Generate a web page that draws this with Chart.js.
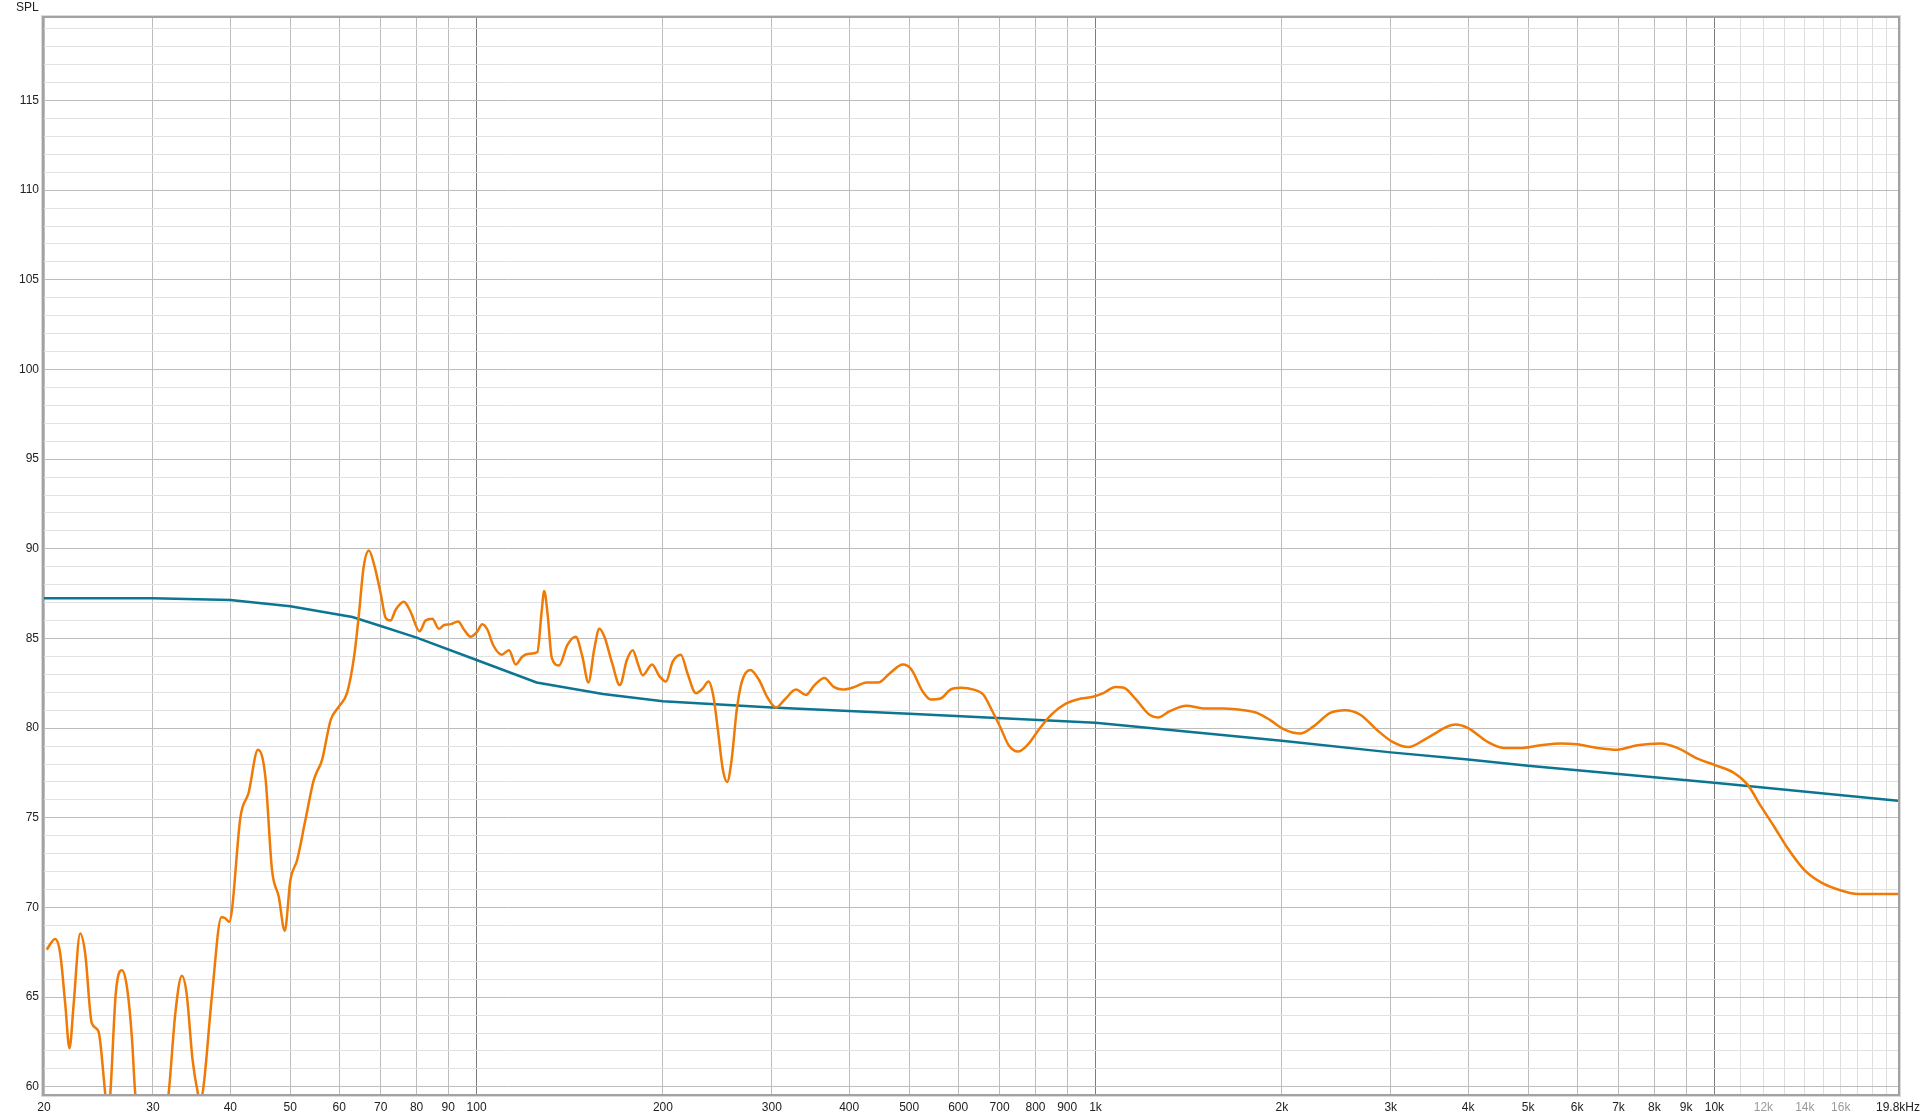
<!DOCTYPE html>
<html>
<head>
<meta charset="utf-8">
<script src="https://cdn.jsdelivr.net/npm/chart.js@4.4.1/dist/chart.umd.min.js"></script>
<style>
  html, body { margin: 0; padding: 0; background: #fff; overflow: hidden; }
  #wrap { width: 1920px; height: 1119px; position: relative; }
</style>
</head>
<body>
<div id="wrap"><canvas id="spl"></canvas></div>
<script>
// measured response (orange)
const measFreq = [20.2, 20.85, 21.24, 21.64, 21.99, 22.32, 22.88, 23.31, 23.89, 24.49, 25.11, 25.35, 25.6, 26.12, 26.72, 27.22, 27.73, 28.08, 29.9, 31.8,
  32.6, 33.4, 34.0, 34.76, 35.45, 35.75, 36.2, 37.35, 38.7, 39.26, 39.85, 40.24, 41.52, 42.82, 44.33, 45.57, 46.71, 47.9, 48.98, 50.03,
  51.29, 52.91, 54.56, 56.29, 58.1, 59.9, 61.8, 63.4, 64.5, 65.7, 67.0, 68.2, 70.0, 71.3, 72.6, 74.0, 76.3, 78.2, 80.9, 82.7,
  84.8, 86.9, 88.6, 90.8, 93.4, 95.4, 97.8, 100.3, 102.1, 104.1, 106.3, 109.8, 112.8, 115.7, 118.6, 121.6, 125.4, 127.3, 128.6, 130.2,
  132.3, 135.9, 140.2, 144.6, 148.2, 151.6, 154.9, 157.9, 160.9, 165.5, 170.4, 174.9, 178.8, 182.2, 185.5, 192.1, 197.4, 202.3, 207.4, 213.8,
  219.2, 226.1, 231.8, 237.1, 241.4, 245.4, 250.1, 254.0, 258.2, 263.2, 268.3, 276.9, 285.9, 295.2, 304.8, 314.8, 328.2, 340.5, 351.6, 364.7,
  377.6, 390.2, 408.2, 426.4, 445.5, 464.9, 488.3, 503.5, 525.7, 541.6, 561.8, 583.0, 605.0, 635.5, 659.5, 680.1, 701.8, 724.0, 749.8, 775.7,
  811.3, 848.6, 893.9, 947.4, 990.8, 1029.5, 1076.8, 1111.9, 1162.5, 1222.2, 1262.1, 1318.6, 1403.0, 1495.6, 1612, 1737, 1823, 1915, 2013, 2142,
  2251, 2395, 2532, 2678, 2850, 3014, 3206, 3434, 3815, 4000, 4294, 4567, 4861, 5237, 5643, 6000, 6470, 6969, 7508, 8190,
  8715, 9391, 10000, 10762, 11313, 11888, 12493, 13134, 13969, 14868, 16015, 17043, 18130, 19800];
const measSpl = [67.65, 68.25, 67.45, 64.65, 62.15, 64.5, 68.55, 67.45, 63.55, 63.1, 59.65, 58.3, 59.65, 65.2, 66.5, 65.6, 62.8, 59.65, 54, 59.65,
  64.1, 66.2, 65.2, 61.5, 59.65, 59.2, 60.0, 65.05, 69.45, 69.4, 69.2, 69.85, 75.0, 76.4, 78.8, 77.3, 72.1, 70.6, 68.7, 71.55,
  72.65, 74.9, 77.1, 78.25, 80.45, 81.2, 82.0, 84.0, 86.25, 89.0, 89.9, 89.2, 87.5, 86.15, 86.0, 86.6, 87.05, 86.5, 85.4, 86.0,
  86.1, 85.55, 85.75, 85.8, 85.95, 85.5, 85.1, 85.4, 85.8, 85.5, 84.65, 84.1, 84.35, 83.55, 84.0, 84.15, 84.25, 86.4, 87.65, 86.4,
  83.9, 83.5, 84.65, 85.1, 84.0, 82.55, 84.4, 85.55, 85.1, 83.65, 82.4, 83.8, 84.35, 83.6, 82.95, 83.55, 82.9, 82.6, 83.7, 84.1,
  83.05, 81.95, 82.2, 82.6, 81.75, 79.9, 77.65, 77.0, 78.2, 81.0, 82.6, 83.25, 82.7, 81.7, 81.15, 81.6, 82.15, 81.85, 82.4, 82.8,
  82.3, 82.15, 82.3, 82.55, 82.55, 83.05, 83.55, 83.3, 82.05, 81.6, 81.65, 82.15, 82.25, 82.15, 81.85, 81.0, 80.05, 79.05, 78.7, 79.05,
  79.95, 80.75, 81.35, 81.65, 81.75, 81.95, 82.3, 82.25, 81.6, 80.75, 80.6, 80.95, 81.25, 81.1, 81.1, 81.0, 80.85, 80.45, 79.95, 79.7,
  80.1, 80.85, 81.0, 80.75, 79.9, 79.25, 78.95, 79.45, 80.2, 80.0, 79.25, 78.9, 78.9, 79.05, 79.15, 79.1, 78.9, 78.8, 79.05, 79.15,
  78.9, 78.3, 77.95, 77.5, 76.85, 75.65, 74.5, 73.3, 72.1, 71.4, 70.95, 70.75, 70.75, 70.75];

// target curve (blue)
const targetFreq = [20, 30, 40, 50, 63, 70, 80, 100, 125, 160, 200, 300, 500, 1000, 2000, 3000, 4000, 5000, 10000, 19800];
const targetSpl = [87.25, 87.25, 87.15, 86.8, 86.2, 85.7, 85.05, 83.8, 82.55, 81.9, 81.5, 81.15, 80.8, 80.3, 79.3, 78.65, 78.25, 77.9, 76.95, 75.95];

// axis ticks
const xTicks = [20, 30, 40, 50, 60, 70, 80, 90, 100, 200, 300, 400, 500, 600, 700, 800, 900,
  1000, 2000, 3000, 4000, 5000, 6000, 7000, 8000, 9000, 10000,
  11000, 12000, 13000, 14000, 15000, 16000, 17000, 18000, 19000, 19800];
const xLabels = ['20', '30', '40', '50', '60', '70', '80', '90', '100', '200', '300', '400', '500', '600', '700', '800', '900',
  '1k', '2k', '3k', '4k', '5k', '6k', '7k', '8k', '9k', '10k',
  '', '12k', '', '14k', '', '16k', '', '', '', '19.8kHz'];
const yTicks = [];
for (let v = 60; v <= 119; v++) yTicks.push(v);

const toPoints = (fs, vs) => fs.map((f, i) => ({ x: f, y: vs[i] }));

const frame = {
  id: 'frame',
  beforeDraw(chart) {
    const c = chart.ctx;
    c.save();
    c.fillStyle = '#fff';
    c.fillRect(0, 0, chart.width, chart.height);
    c.restore();
  },
  afterDraw(chart) {
    const c = chart.ctx, a = chart.chartArea;
    c.save();
    c.strokeStyle = '#dadada';
    c.lineWidth = 1;
    c.strokeRect(a.left - 2.5, a.top - 2.5, a.right - a.left + 5, a.bottom - a.top + 5);
    c.strokeStyle = '#a2a2a2';
    c.lineWidth = 2;
    c.strokeRect(a.left - 1, a.top - 1, a.right - a.left + 2, a.bottom - a.top + 2);
    c.fillStyle = '#222';
    c.font = '12px "Liberation Sans", Arial, sans-serif';
    c.textBaseline = 'middle';
    c.textAlign = 'left';
    c.fillText('SPL', 16, 8);
    c.restore();
  }
};

const ctx = document.getElementById('spl').getContext('2d');
new Chart(ctx, {
  type: 'line',
  data: {
    datasets: [
      {
        label: 'Measurement',
        data: toPoints(measFreq, measSpl),
        borderColor: '#ef7a06',
        borderWidth: 2.5,
        pointRadius: 0,
        cubicInterpolationMode: 'monotone',
        fill: false
      },
      {
        label: 'Target',
        data: toPoints(targetFreq, targetSpl),
        borderColor: '#0c7592',
        borderWidth: 2.5,
        pointRadius: 0,
        tension: 0,
        fill: false
      }
    ]
  },
  options: {
    responsive: true,
    maintainAspectRatio: false,
    animation: false,
    layout: { padding: { top: 18, right: 22, left: 0, bottom: 0 } },
    plugins: { legend: { display: false }, tooltip: { enabled: false } },
    scales: {
      x: {
        type: 'logarithmic',
        min: 20,
        max: 19800,
        afterBuildTicks: (s) => { s.ticks = xTicks.map(v => ({ value: v })); },
        afterFit: (s) => { s.height = 25; s.paddingLeft = 0; s.paddingRight = 0; },
        border: { display: false },
        grid: {
          drawTicks: false,
          lineWidth: 1,
          color: (c) => {
            const v = c.tick && c.tick.value;
            if (v === 100 || v === 1000 || v === 10000) return '#7c7c7c';
            if (v === 19800) return 'rgba(0,0,0,0)';
            if (v > 10000) return '#dedede';
            return '#bcbcbc';
          }
        },
        ticks: {
          autoSkip: false,
          maxRotation: 0,
          padding: 6,
          font: { family: '"Liberation Sans", Arial, sans-serif', size: 12 },
          color: (c) => {
            const v = c.tick && c.tick.value;
            return (v > 10000 && v < 19800) ? '#9a9a9a' : '#222';
          },
          callback: (v) => {
            const i = xTicks.indexOf(v);
            return i >= 0 ? xLabels[i] : '';
          }
        }
      },
      y: {
        type: 'linear',
        min: 59.6,
        max: 119.6,
        afterBuildTicks: (s) => { s.ticks = yTicks.map(v => ({ value: v })); },
        afterFit: (s) => { s.width = 44; s.paddingTop = 0; s.paddingBottom = 0; },
        border: { display: false },
        grid: {
          drawTicks: false,
          lineWidth: 1,
          color: (c) => {
            const v = c.tick && c.tick.value;
            return v % 5 === 0 ? '#bcbcbc' : '#e2e2e2';
          }
        },
        ticks: {
          autoSkip: false,
          padding: 5,
          font: { family: '"Liberation Sans", Arial, sans-serif', size: 12 },
          color: '#222',
          callback: (v) => (v % 5 === 0 ? String(v) : '')
        }
      }
    }
  },
  plugins: [frame]
});
</script>
</body>
</html>
